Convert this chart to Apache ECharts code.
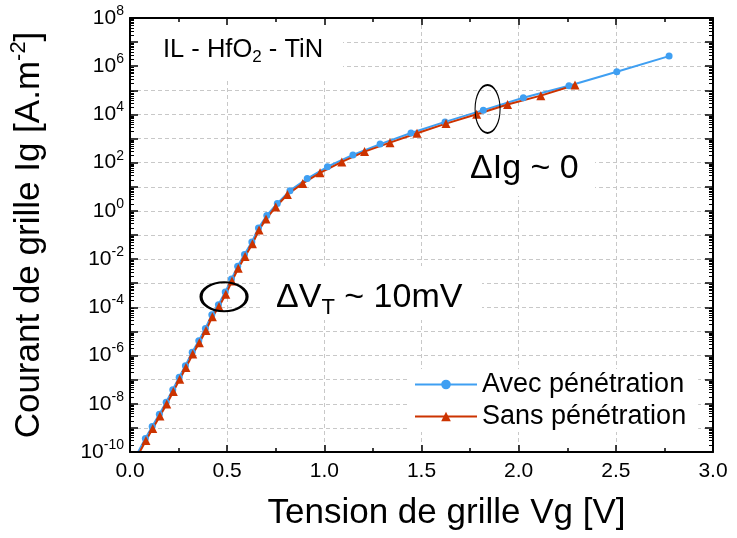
<!DOCTYPE html>
<html><head><meta charset="utf-8">
<script src="https://cdn.jsdelivr.net/npm/echarts@6/dist/echarts.min.js"></script>
<style>html,body{margin:0;padding:0;background:#fff}#c{width:737px;height:538px}</style>
</head><body><div id="c"></div>
<script>
// ---- data ----
const vgAvec = [0.037, 0.079, 0.114, 0.151, 0.186, 0.220, 0.253, 0.285, 0.320, 0.354, 0.388, 0.421, 0.455, 0.490, 0.522, 0.554, 0.589, 0.627, 0.661, 0.704, 0.758, 0.823, 0.912, 1.016, 1.147, 1.287, 1.446, 1.621, 1.818, 2.024, 2.259, 2.505, 2.774];
const igAvec = [8.5e-11, 3.6e-10, 1.15e-9, 3.7e-9, 1.17e-8, 3.8e-8, 1.26e-7, 3.8e-7, 1.38e-6, 4.1e-6, 1.32e-5, 4.9e-5, 1.29e-4, 4.3e-4, 1.48e-3, 5.0e-3, 1.55e-2, 5.1e-2, 0.195, 0.646, 2.04, 6.9, 21.9, 67.6, 209, 589, 1700, 4900, 15100, 49000, 155000, 589000, 2630000];
const vgSans = [0.040, 0.082, 0.117, 0.154, 0.189, 0.223, 0.256, 0.288, 0.323, 0.357, 0.391, 0.424, 0.458, 0.493, 0.525, 0.557, 0.592, 0.630, 0.664, 0.700, 0.750, 0.810, 0.889, 0.978, 1.090, 1.207, 1.338, 1.477, 1.626, 1.784, 1.943, 2.114, 2.290];
const igSans = [7.1e-11, 3.0e-10, 9.5e-10, 3.1e-9, 9.8e-9, 3.2e-8, 1.05e-7, 3.2e-7, 1.15e-6, 3.4e-6, 1.1e-5, 4.1e-5, 1.07e-4, 3.5e-4, 1.23e-3, 4.2e-3, 1.29e-2, 4.3e-2, 0.162, 0.457, 1.45, 4.8, 13.8, 38, 107, 288, 676, 1660, 4170, 10200, 25700, 60300, 166000];
const xTickLabels = ['0.0', '0.5', '1.0', '1.5', '2.0', '2.5', '3.0'];
const yTickExponents = [-10, -8, -6, -4, -2, 0, 2, 4, 6, 8];
const seriesNames = ['Avec pénétration', 'Sans pénétration'];

const FONT = '"Liberation Sans", Arial, Helvetica, sans-serif';
const BLUE = '#3f9ff2', RED = '#cc3300';

const chart = echarts.init(document.getElementById('c'), null, {renderer: 'canvas'});

function xLabel(v) {
  const i = Math.round(v / 0.5);
  return Math.abs(v - i * 0.5) < 1e-6 && xTickLabels[i] !== undefined ? xTickLabels[i] : '';
}
function yLabel(v) {
  const e = Math.round(Math.log10(v));
  return yTickExponents.indexOf(e) >= 0 ? '{b|10}{s|' + e + '}' : '';
}

const frameLine = {show: true, onZero: false, lineStyle: {color: '#000', width: 2}};
function xFrame(pos, labels) {
  return {
    type: 'value', min: 0, max: 3, interval: 0.5, position: pos, z: 3,
    axisLine: frameLine,
    axisTick: {show: true, inside: true, length: 7, lineStyle: {color: '#000', width: 1.5}},
    minorTick: {show: true, splitNumber: 2, length: 4, lineStyle: {color: '#000', width: 1.5}},
    splitLine: {show: false},
    axisLabel: labels ? {show: true, formatter: xLabel, fontSize: 21, fontFamily: FONT, color: '#000', margin: 9} : {show: false},
    name: labels ? 'Tension de grille Vg [V]' : '',
    nameLocation: 'middle', nameGap: 44,
    nameTextStyle: {fontSize: 35, fontFamily: FONT, color: '#000', padding: [0, 0, 0, 50]}
  };
}
function yFrame(pos, labels) {
  return {
    type: 'log', logBase: 10, min: 1e-10, max: 1e8, interval: 1, position: pos, z: 3,
    axisLine: frameLine,
    axisTick: {show: true, inside: true, length: 8, lineStyle: {color: '#000', width: 1.5}},
    splitLine: {show: false},
    axisLabel: labels ? {show: true, formatter: yLabel, margin: 6, fontFamily: FONT, color: '#000',
      rich: {b: {fontSize: 21, fontFamily: FONT, color: '#000', lineHeight: 28},
             s: {fontSize: 14, fontFamily: FONT, color: '#000', verticalAlign: 'top', lineHeight: 28}}} : {show: false},
    name: labels ? '{a|Courant de grille Ig [A.m}{s|-2}{a|]}' : '',
    nameLocation: 'middle', nameGap: 80, nameRotate: 90,
    nameTextStyle: {fontFamily: FONT, color: '#000',
      rich: {a: {fontSize: 35, fontFamily: FONT, color: '#000', lineHeight: 42},
             s: {fontSize: 22, fontFamily: FONT, color: '#000', verticalAlign: 'top', lineHeight: 42}}}
  };
}
const gridSplit = {show: true, lineStyle: {color: '#c8c8c8', width: 1, type: [4, 3]}};

const option = {
  animation: false,
  backgroundColor: '#fff',
  grid: {left: 130, right: 24, top: 18, bottom: 86},
  xAxis: [
    xFrame('bottom', true),
    xFrame('top', false),
    {type: 'value', min: 0, max: 3, interval: 0.5, z: 0, axisLine: {show: false}, axisTick: {show: false}, axisLabel: {show: false}, splitLine: gridSplit}
  ],
  yAxis: [
    yFrame('left', true),
    yFrame('right', false),
    {type: 'log', logBase: 10, min: 1e-10, max: 1e8, interval: 1, z: 0, axisLine: {show: false}, axisTick: {show: false}, axisLabel: {show: false}, splitLine: gridSplit}
  ],
  legend: {
    orient: 'vertical', left: 410, top: 369, itemWidth: 62, itemHeight: 12, itemGap: 5,
    backgroundColor: '#fff', padding: [2, 12, 2, 4],
    textStyle: {fontSize: 27, fontFamily: FONT, color: '#000'},
    data: seriesNames
  },
  series: [
    {name: seriesNames[0], type: 'line', xAxisIndex: 0, yAxisIndex: 0, z: 2,
     data: vgAvec.map((v, i) => [v, igAvec[i]]),
     symbol: 'circle', symbolSize: 7, clip: true,
     lineStyle: {color: BLUE, width: 2}, itemStyle: {color: BLUE}},
    {name: seriesNames[1], type: 'line', xAxisIndex: 0, yAxisIndex: 0, z: 2,
     data: vgSans.map((v, i) => [v, igSans[i]]),
     symbol: 'triangle', symbolSize: 9, clip: true,
     lineStyle: {color: RED, width: 2}, itemStyle: {color: RED}}
  ]
};
chart.setOption(option);

// ---- overlay: log minor ticks, annotation boxes, texts and ellipses ----
const xL = chart.convertToPixel({xAxisIndex: 0}, 0);
const xR = chart.convertToPixel({xAxisIndex: 0}, 3);
const els = [];
for (let d = -10; d < 8; d++) {
  for (let k = 2; k <= 9; k++) {
    const y = Math.round(chart.convertToPixel({yAxisIndex: 0}, k * Math.pow(10, d))) + 0.5;
    els.push({type: 'line', z: 5, shape: {x1: xL, y1: y, x2: xL + 4, y2: y}, style: {stroke: '#000', lineWidth: 1}});
    els.push({type: 'line', z: 5, shape: {x1: xR - 4, y1: y, x2: xR, y2: y}, style: {stroke: '#000', lineWidth: 1}});
  }
}
// white backgrounds behind annotation texts (hide grid lines)
els.push({type: 'rect', z: 1, shape: {x: 131, y: 19, width: 212, height: 59}, style: {fill: '#fff'}});
els.push({type: 'rect', z: 1, shape: {x: 260, y: 266, width: 222, height: 54}, style: {fill: '#fff'}});
els.push({type: 'rect', z: 1, shape: {x: 455, y: 146, width: 140, height: 50}, style: {fill: '#fff'}});

els.push({type: 'text', z: 6, x: 163, y: 50, style: {
  text: '{a|IL - HfO}{b|2}{a| - TiN}', verticalAlign: 'middle', fill: '#000',
  rich: {a: {fontSize: 25.5, fontFamily: FONT, fill: '#000', lineHeight: 32},
         b: {fontSize: 17, fontFamily: FONT, fill: '#000', verticalAlign: 'bottom', lineHeight: 32}}}});
els.push({type: 'text', z: 6, x: 276, y: 298, style: {
  text: '{a|\u0394V}{b|T}{a| ~ 10mV}', verticalAlign: 'middle', fill: '#000',
  rich: {a: {fontSize: 34, fontFamily: FONT, fill: '#000', lineHeight: 42},
         b: {fontSize: 22, fontFamily: FONT, fill: '#000', verticalAlign: 'bottom', lineHeight: 42}}}});
els.push({type: 'text', z: 6, x: 470, y: 169, style: {
  text: '\u0394Ig ~ 0', verticalAlign: 'middle', fill: '#000', fontSize: 34, fontFamily: FONT}});

const e1 = chart.convertToPixel({xAxisIndex: 0, yAxisIndex: 0}, [0.484, Math.pow(10, -3.56)]);
const e2 = chart.convertToPixel({xAxisIndex: 0, yAxisIndex: 0}, [1.840, Math.pow(10, 4.23)]);
els.push({type: 'circle', z: 6, x: e1[0], y: e1[1], scaleX: 23 / 14.5, scaleY: 1,
  shape: {cx: 0, cy: 0, r: 14.5}, style: {fill: 'none', stroke: '#000', lineWidth: 2, strokeNoScale: true}});
els.push({type: 'circle', z: 6, x: e2[0], y: e2[1], scaleX: 12.5 / 24, scaleY: 1,
  shape: {cx: 0, cy: 0, r: 24}, style: {fill: 'none', stroke: '#000', lineWidth: 2, strokeNoScale: true}});

chart.setOption({graphic: {elements: els}});
</script>
</body></html>
